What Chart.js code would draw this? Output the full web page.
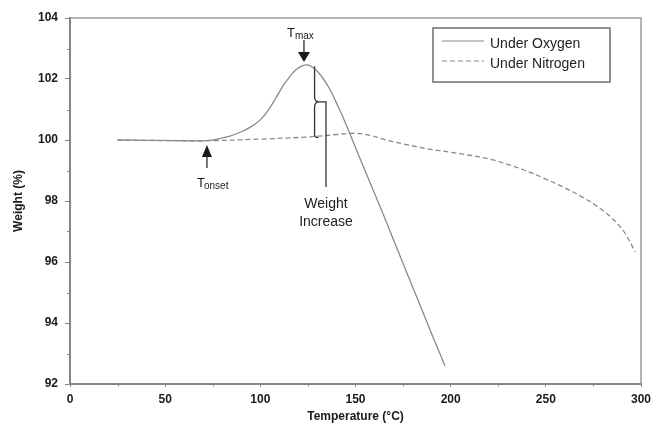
<!DOCTYPE html>
<html>
<head>
<meta charset="utf-8">
<script src="https://cdn.jsdelivr.net/npm/chart.js@4.4.1/dist/chart.umd.min.js"></script>
<style>
html,body{margin:0;padding:0;background:#fff;}
#wrap{width:654px;height:424px;position:relative;}
</style>
</head>
<body>
<div id="wrap"><canvas id="c"></canvas></div>
<script>
/* TGA weight curves — oxygen vs nitrogen */

/* ─── DATA ──────────────────────────────────────────── */
const oxyT=[25,40,55,65,72,78,84,90,95,100,104,108,112,116,119,122,124.5,127,131,136,141,145,148,152,156,160,165,170,175,180,185,190,197];
const oxyW=[100,99.99,99.98,99.97,99.98,100.04,100.13,100.27,100.43,100.66,100.96,101.36,101.78,102.12,102.32,102.43,102.46,102.4,102.18,101.72,101.08,100.52,100.06,99.45,98.85,98.25,97.5,96.72,95.95,95.18,94.42,93.65,92.6];
const nitT=[25,50,75,100,125,140,150,158,166,176,188,200,210,220,230,240,250,260,270,278,285,291,297];
const nitW=[100,99.98,99.98,100.03,100.1,100.18,100.22,100.15,100.0,99.86,99.71,99.6,99.5,99.38,99.2,98.98,98.72,98.43,98.1,97.78,97.42,97.0,96.33];
const xTicks=[0,50,100,150,200,250,300];
const yTicks=[92,94,96,98,100,102,104];
const seriesNames=['Under Oxygen','Under Nitrogen'];

const FONT='"Liberation Sans", Arial, sans-serif';
const LINE='#8a8a8a', AXIS='#858585', INK='#1a1a1a';

/* ─── ANNOTATIONS (data units) ─────────────────────── */
const TMAX={x:124.5,y:102.46};
const TONSET={x:73,y:100};
const BRACE={x:128.5,top:102.42,mid:101.25,bot:100.08,lineX:134.5,lineBot:98.46};

const pts=(xs,ys)=>xs.map((x,i)=>({x,y:ys[i]}));

const decor={
  id:'decor',
  afterDatasetsDraw(chart){
    const {ctx,chartArea:a,scales:{x:sx,y:sy}}=chart;
    ctx.save();
    // frame top / right
    ctx.strokeStyle='#9a9a9a';ctx.lineWidth=1.5;
    ctx.beginPath();ctx.moveTo(a.left,a.top);ctx.lineTo(a.right,a.top);ctx.lineTo(a.right,a.bottom);ctx.stroke();
    // minor ticks
    ctx.strokeStyle=AXIS;ctx.lineWidth=1;
    for(let v=25;v<300;v+=50){const px=Math.round(sx.getPixelForValue(v))+.5;ctx.beginPath();ctx.moveTo(px,a.bottom);ctx.lineTo(px,a.bottom+2.5);ctx.stroke();}
    for(let v=93;v<104;v+=2){const py=Math.round(sy.getPixelForValue(v))+.5;ctx.beginPath();ctx.moveTo(a.left,py);ctx.lineTo(a.left-3,py);ctx.stroke();}

    ctx.fillStyle=INK;ctx.strokeStyle=INK;ctx.lineWidth=1.2;
    // Tmax arrow + label
    const mx=sx.getPixelForValue(TMAX.x)-3,my=sy.getPixelForValue(TMAX.y);
    ctx.beginPath();ctx.moveTo(mx,my-25);ctx.lineTo(mx,my-12);ctx.stroke();
    ctx.beginPath();ctx.moveTo(mx-6,my-13);ctx.lineTo(mx+6,my-13);ctx.lineTo(mx,my-3);ctx.closePath();ctx.fill();
    ctx.textBaseline='alphabetic';ctx.textAlign='left';
    ctx.font='13px '+FONT;ctx.fillText('T',mx-17,my-28);
    ctx.font='10px '+FONT;ctx.fillText('max',mx-9,my-26);
    // Tonset arrow + label
    const ox=sx.getPixelForValue(TONSET.x)-2,oy=sy.getPixelForValue(TONSET.y);
    ctx.beginPath();ctx.moveTo(ox-5,oy+17);ctx.lineTo(ox+5,oy+17);ctx.lineTo(ox,oy+5);ctx.closePath();ctx.fill();
    ctx.beginPath();ctx.moveTo(ox,oy+16);ctx.lineTo(ox,oy+28);ctx.stroke();
    ctx.font='13px '+FONT;ctx.fillText('T',ox-10,oy+47);
    ctx.font='10px '+FONT;ctx.fillText('onset',ox-3,oy+49);
    // brace + leader line
    const bx=sx.getPixelForValue(BRACE.x),bt=sy.getPixelForValue(BRACE.top),bm=sy.getPixelForValue(BRACE.mid),bb=sy.getPixelForValue(BRACE.bot);
    const lx=sx.getPixelForValue(BRACE.lineX),lb=sy.getPixelForValue(BRACE.lineBot);
    ctx.strokeStyle='#333';ctx.lineWidth=1.3;
    ctx.beginPath();
    ctx.moveTo(bx,bt);ctx.lineTo(bx,bm-5);ctx.quadraticCurveTo(bx,bm,bx+5,bm);
    ctx.quadraticCurveTo(bx,bm,bx,bm+5);ctx.lineTo(bx,bb-3);ctx.quadraticCurveTo(bx,bb,bx+4,bb);
    ctx.stroke();
    ctx.beginPath();ctx.moveTo(bx+5,bm);ctx.lineTo(lx,bm);ctx.lineTo(lx,lb);ctx.stroke();
    ctx.font='14px '+FONT;ctx.textAlign='center';ctx.fillStyle='#222';
    ctx.fillText('Weight',lx,lb+21);ctx.fillText('Increase',lx,lb+39);

    // legend box
    const L={x:433,y:28,w:177,h:54};
    ctx.strokeStyle='#6e6e6e';ctx.lineWidth=1.5;ctx.strokeRect(L.x,L.y,L.w,L.h);
    ctx.textAlign='left';ctx.textBaseline='middle';ctx.font='14px '+FONT;
    chart.data.datasets.forEach((ds,i)=>{
      const yy=L.y+13+i*20;
      ctx.strokeStyle=ds.borderColor;ctx.lineWidth=1.2;ctx.setLineDash(ds.borderDash||[]);
      ctx.beginPath();ctx.moveTo(L.x+9,yy);ctx.lineTo(L.x+51,yy);ctx.stroke();ctx.setLineDash([]);
      ctx.fillStyle='#222';ctx.fillText(ds.label,L.x+57,yy+3);
    });
    ctx.restore();
  }
};

new Chart(document.getElementById('c'),{
  type:'line',
  data:{datasets:[
    {label:seriesNames[0],data:pts(oxyT,oxyW),borderColor:LINE,borderWidth:1.3,pointRadius:0,tension:0.35,fill:false},
    {label:seriesNames[1],data:pts(nitT,nitW),borderColor:LINE,borderWidth:1.3,borderDash:[5,3],pointRadius:0,tension:0.35,fill:false}
  ]},
  options:{
    responsive:true,maintainAspectRatio:false,animation:false,
    layout:{padding:{top:18,right:0,left:0,bottom:0}},
    plugins:{legend:{display:false},tooltip:{enabled:false}},
    scales:{
      x:{type:'linear',min:0,max:300,
        afterBuildTicks:s=>{s.ticks=xTicks.map(v=>({value:v}));},
        afterFit:s=>{s.height=40;s.paddingRight=13;s.paddingLeft=0;},
        ticks:{color:INK,font:{family:FONT,size:12,weight:'bold'},padding:5,maxRotation:0},
        grid:{display:true,drawOnChartArea:false,drawTicks:true,tickLength:3,color:AXIS,lineWidth:1},
        border:{color:AXIS,width:2},
        title:{display:true,text:'Temperature (°C)',color:INK,font:{family:FONT,size:12,weight:'bold'},padding:{top:0,bottom:0}}},
      y:{min:92,max:104,
        afterBuildTicks:s=>{s.ticks=yTicks.map(v=>({value:v}));},
        afterFit:s=>{s.width=70;},
        ticks:{color:INK,font:{family:FONT,size:12,weight:'bold'},padding:7},
        grid:{display:true,drawOnChartArea:false,drawTicks:true,tickLength:5,color:AXIS,lineWidth:1},
        border:{color:AXIS,width:2},
        title:{display:true,text:'Weight (%)',color:INK,font:{family:FONT,size:12,weight:'bold'},padding:{top:11,bottom:0}}}
    }
  },
  plugins:[decor]
});
</script>
</body>
</html>
